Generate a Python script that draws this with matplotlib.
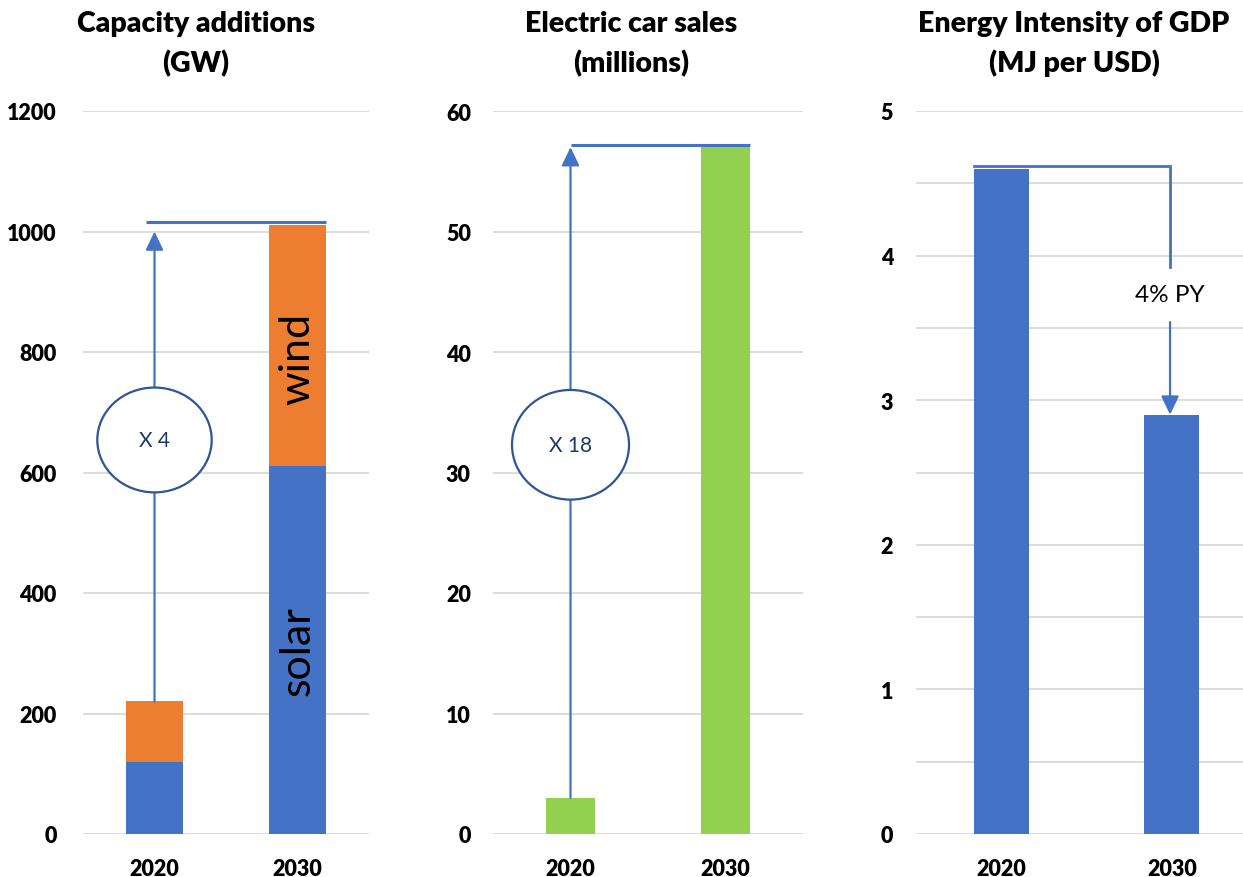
import matplotlib.pyplot as plt
from matplotlib.patches import Ellipse

# data
years = ["2020", "2030"]
solar_gw = [120, 610]
wind_gw = [100, 400]
ev_sales = [3, 57]
energy_intensity = [4.6, 2.9]

BLUE = "#4472C4"
ORANGE = "#ED7D31"
GREEN = "#92D050"
NAVY = "#2F5597"
GRID = "#D9D9D9"

plt.rcParams["font.family"] = ["Lato", "DejaVu Sans"]
plt.rcParams["font.weight"] = "heavy"

fig = plt.figure(figsize=(12.43, 8.78), dpi=100)
W, H = 1243, 878


def px_axes(left, right, bottom=835, top=112):
    return fig.add_axes([left / W, 1 - bottom / H, (right - left) / W, (bottom - top) / H])


def style(ax, pad):
    for s in ax.spines.values():
        s.set_visible(False)
    ax.set_axisbelow(True)
    ax.yaxis.grid(True, color=GRID, lw=1.3)
    ax.tick_params(axis="both", length=0)
    ax.tick_params(axis="y", pad=pad, labelsize=15.5)
    ax.tick_params(axis="x", pad=17, labelsize=15.5)
    ax.set_xlim(-0.5, 1.5)


def arrow(ax, x, y0, y1, lw=1.6):
    ax.annotate("", xy=(x, y1), xytext=(x, y0),
                arrowprops=dict(arrowstyle="-|>,head_length=0.75,head_width=0.36",
                                color=BLUE, lw=lw, shrinkA=0, shrinkB=0,
                                mutation_scale=15), zorder=3)


def bubble(ax, x, y, w, h, label):
    ax.add_patch(Ellipse((x, y), w, h, facecolor="white", edgecolor=NAVY,
                         lw=1.6, zorder=4))
    ax.text(x, y, label, ha="center", va="center", fontsize=15,
            fontweight="normal", color="#203864", zorder=5)


def title(xc, line1, line2):
    fig.text(xc / W, 1 - 32 / H, line1, ha="center", va="baseline",
             fontsize=20.5)
    fig.text(xc / W, 1 - 72 / H, line2, ha="center", va="baseline",
             fontsize=20.5)


x = [0, 1]
bw = 0.4

# capacity additions
ax1 = px_axes(83, 369)
ax1.bar(x, solar_gw, width=bw, color=BLUE, zorder=2)
ax1.bar(x, wind_gw, width=bw, bottom=solar_gw, color=ORANGE, zorder=2)
ax1.set_ylim(0, 1200)
ax1.set_yticks(range(0, 1201, 200))
ax1.set_xticks(x, years)
style(ax1, 19)
total_gw = [s + w for s, w in zip(solar_gw, wind_gw)]
top1 = total_gw[1] + 5
ax1.plot([-0.056, 1 + bw / 2], [top1, top1], color=BLUE, lw=2.2, zorder=3,
         solid_capstyle="butt")
arrow(ax1, 0, total_gw[0], top1 - 15)
bubble(ax1, 0, 654, 0.80, 174, "X 4")
ax1.text(1, solar_gw[1] / 2, "solar", rotation=90, ha="center", va="center",
         fontsize=31, fontweight="normal", color="black", zorder=3)
ax1.text(1, solar_gw[1] + wind_gw[1] / 2 - 20, "wind", rotation=90, ha="center",
         va="center", fontsize=31, fontweight="normal", color="black", zorder=3)
title(196, "Capacity additions", "(GW)")

# electric car sales
ax2 = px_axes(493, 803)
bw2 = 0.32
ax2.bar(x, ev_sales, width=bw2, color=GREEN, zorder=2)
ax2.set_ylim(0, 60)
ax2.set_yticks(range(0, 61, 10))
ax2.set_xticks(x, years)
style(ax2, 16)
top2 = ev_sales[1] + 0.2
ax2.plot([0, 1 + bw2 / 2], [top2, top2], color=BLUE, lw=2.2, zorder=3,
         solid_capstyle="butt")
arrow(ax2, 0, ev_sales[0], ev_sales[1])
bubble(ax2, 0, 32.3, 0.755, 9.1, "X 18")
title(631, "Electric car sales", "(millions)")

# energy intensity
ax3 = px_axes(916, 1257)
ax3.bar(x, energy_intensity, width=bw2, color=BLUE, zorder=2)
ax3.set_ylim(0, 5)
ticks = [i * 0.5 for i in range(11)]
ax3.set_yticks(ticks, [str(int(t)) if t == int(t) else "" for t in ticks])
ax3.set_xticks(x, years)
style(ax3, 16.5)
top3 = energy_intensity[0] + 0.02
ax3.plot([-bw2 / 2, 0.99, 0.99], [top3, top3, 3.92], color=BLUE, lw=2.0,
         zorder=3, solid_joinstyle="miter")
arrow(ax3, 0.99, 3.54, energy_intensity[1])
ax3.text(0.99, 3.73, "4% PY", ha="center", va="center", fontsize=17.5,
         fontweight="normal", zorder=4)
title(1074, "Energy Intensity of GDP", "(MJ per USD)")

fig.savefig("out.png", dpi=100)
